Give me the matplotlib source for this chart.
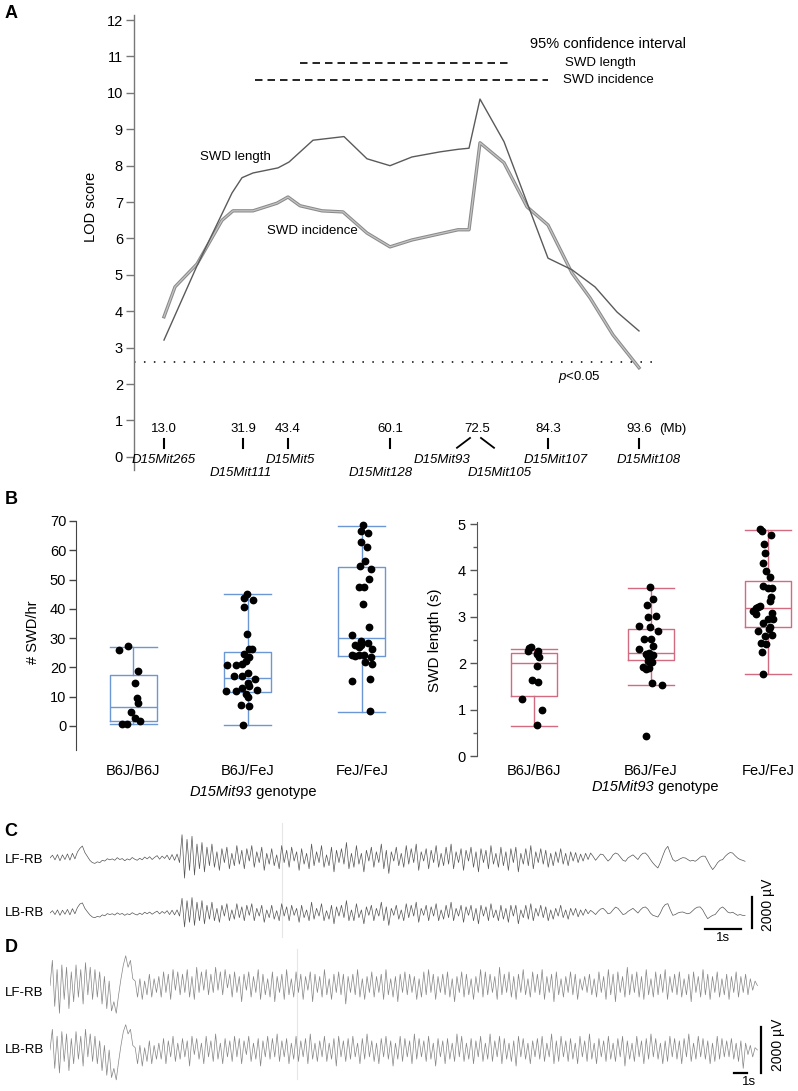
import numpy as np
import matplotlib
matplotlib.use("Agg")
import matplotlib.pyplot as plt
from matplotlib.ticker import MultipleLocator

plt.rcParams['font.family'] = ['Liberation Sans', 'DejaVu Sans']
plt.rcParams['mathtext.fontset'] = 'custom'
plt.rcParams['mathtext.rm'] = 'Liberation Sans'
plt.rcParams['mathtext.it'] = 'Liberation Sans:italic'

# ---------------- panel A data ----------------
marker_mb = ["13.0", "31.9", "43.4", "60.1", "72.5", "84.3", "93.6"]
marker_pos = [6.0, 21.8, 30.8, 51.2, 68.6, 82.8, 101.0]
marker_names = ["D15Mit265", "D15Mit111", "D15Mit5", "D15Mit128",
                "D15Mit93", "D15Mit105", "D15Mit107", "D15Mit108"]
name_pos = [6.0, 21.4, 31.2, 49.4, 61.6, 73.2, 84.4, 103.0]
name_row = [0, 1, 0, 1, 0, 1, 0, 0]

len_pos = [6.0, 12.6, 19.6, 21.6, 23.8, 28.8, 31.0, 35.8, 42.0, 46.6, 51.2,
           55.6, 61.2, 64.8, 67.0, 69.2, 74.0, 82.8, 87.6, 92.2, 96.6, 101.0]
len_lod = [3.21, 5.25, 7.25, 7.67, 7.80, 7.94, 8.10, 8.70, 8.80, 8.19, 8.00,
           8.24, 8.38, 8.45, 8.48, 9.83, 8.66, 5.46, 5.14, 4.67, 3.98, 3.46]

inc_pos = [6.0, 8.2, 12.6, 17.6, 19.8, 23.8, 28.6, 30.8, 33.2, 37.6, 41.8, 46.6,
           51.2, 55.6, 64.8, 67.0, 69.2, 74.0, 78.6, 82.8, 87.6, 91.2, 95.8, 101.0]
inc_lod = [3.85, 4.67, 5.30, 6.50, 6.76, 6.76, 6.97, 7.14, 6.90, 6.76, 6.73, 6.15,
           5.77, 5.96, 6.24, 6.24, 8.63, 8.08, 6.87, 6.37, 5.05, 4.37, 3.35, 2.45]

ci_length = [33.2, 75.6]
ci_incidence = [24.2, 82.8]
threshold = 2.6

# ---------------- panel B data ----------------
groups = ["B6J/B6J", "B6J/FeJ", "FeJ/FeJ"]

rate_med = [6.5, 16.5, 30.2]
rate_q1 = [1.7, 11.7, 24.0]
rate_q3 = [17.5, 25.3, 54.3]
rate_lo = [0.6, 0.3, 4.9]
rate_hi = [27.0, 45.0, 68.2]

rate_bb = [27.3, 26.0, 18.8, 14.6, 9.6, 8.0, 4.9, 2.8, 1.7, 0.8, 0.8]
rate_bb_dx = [-0.044, -0.125, 0.038, 0.017, 0.035, 0.044, -0.015, 0.02, 0.064, -0.10, -0.055]
rate_bf = [45.0, 43.7, 42.9, 40.6, 31.5, 26.2, 26.2, 24.7, 23.6, 22.1, 21.3, 20.9, 20.8, 18.1,
           17.0, 17.0, 16.2, 14.7, 13.5, 13.1, 11.9, 11.9, 12.2, 11.0, 9.9, 7.1, 6.7, 0.5]
rate_bf_dx = [-0.006, -0.035, 0.044, -0.035, -0.006, 0.015, 0.035, -0.029, 0.015, -0.015, -0.044,
              -0.175, -0.099, 0.0, -0.117, -0.052, 0.064, 0.0, 0.015, -0.044, -0.19, -0.10, 0.087,
              -0.015, 0.0, -0.058, 0.015, -0.041]
rate_ff = [68.5, 66.5, 66.0, 62.8, 61.1, 56.2, 54.7, 53.5, 50.1, 47.5, 47.5, 41.5, 33.8, 31.1, 29.0,
           28.5, 27.8, 27.8, 27.0, 26.4, 24.1, 24.1, 24.1, 23.6, 23.8, 21.7, 21.3, 15.3, 15.9, 5.0]
rate_ff_dx = [0.009, -0.009, 0.052, -0.006, 0.044, 0.029, -0.02, 0.082, 0.064, -0.026, 0.02, 0.009,
              0.064, -0.087, -0.009, 0.052, -0.064, -0.009, -0.029, 0.087, -0.087, -0.029, 0.02,
              0.079, -0.058, 0.029, 0.087, -0.087, 0.067, 0.073]

len_med = [2.01, 2.22, 3.18]
len_q1 = [1.29, 2.06, 2.78]
len_q3 = [2.22, 2.73, 3.78]
len_lo = [0.65, 1.53, 1.77]
len_hi = [2.30, 3.63, 4.88]

len_bb = [2.32, 2.34, 2.27, 2.27, 2.20, 2.14, 1.93, 1.64, 1.60, 1.22, 0.99, 0.66]
len_bb_dx = [-0.04, -0.026, -0.054, 0.037, 0.023, 0.046, 0.023, -0.014, 0.037, -0.10, 0.071, 0.026]
len_bf = [3.64, 3.38, 3.26, 2.99, 3.01, 2.81, 2.78, 2.70, 2.52, 2.52, 2.36, 2.31, 2.23, 2.20, 2.18,
          2.14, 2.11, 2.04, 2.02, 1.91, 1.89, 1.87, 1.58, 1.53, 0.43]
len_bf_dx = [-0.009, 0.014, -0.037, -0.028, 0.043, -0.10, -0.006, 0.06, -0.057, 0.0, 0.02, -0.105,
             -0.014, -0.043, 0.02, -0.028, -0.006, -0.028, 0.009, -0.066, -0.02, -0.043, 0.009,
             0.094, -0.043]
len_ff = [4.90, 4.84, 4.76, 4.56, 4.37, 4.16, 3.99, 3.85, 3.67, 3.62, 3.62, 3.42, 3.35, 3.24, 3.19,
          3.22, 3.12, 3.06, 3.08, 2.96, 2.95, 2.86, 2.79, 2.73, 2.70, 2.61, 2.58, 2.43, 2.42, 2.24, 1.77]
len_ff_dx = [-0.071, -0.048, 0.028, -0.037, -0.028, -0.043, -0.014, 0.02, -0.043, 0.037, 0.0, 0.028,
             0.014, -0.066, -0.105, -0.085, -0.128, -0.10, 0.037, 0.0, 0.043, -0.043, 0.02, 0.009,
             -0.085, 0.037, -0.028, -0.057, -0.02, -0.048, -0.043]

# ---------------- panel C / D traces (uV) ----------------
dt_c = 0.0692
dt_d = 0.182

c_lf = [0, 180, -120, 220, -180, 200, -100, 260, -140, 300,
        -60, 380, 620, 770, 350, 100, -150, -300, -350, -250,
        -300, -150, -200, -50, -120, -60, -150, 20, -100, -40,
        -180, -60, -130, 30, -80, -150, -20, -120, 60, -60,
        80, -100, 40, 150, -80, 120, -30, 180, -120, 220,
        -150, 250,
        -300, 1500, -1300, 1200, -800, 1400, -1100, 900, -700, 1000,
        -900, 700, -500, 900, -600, 400, -800, 600, -300, 700,
        -700, 300, -500, 800, -400, 500, -700, 600, -200, 800,
        -600, 400, -300, 700, -800, 300, -400, 600, -500, 200,
        -700, 800, -300, 500, -600, 700, -200, 400, -800, 600,
        -400, 300, -700, 900, -500, 400, -300, 800, -600, 200,
        -500, 700, -900, 500, -300, 600, -400, 1000, -700, 300,
        -600, 800, -400, 300, -900, 500, -200, 700, -600, 400,
        -300, 900, -700, 500, -1000, 400, -200, 700, -500, 300,
        -600, 800, -400, 600, -300, 900, -800, 400, -200, 600,
        -700, 500, -300, 800, -600, 300, -500, 700, -400, 900,
        -700, 400, -300, 600, -800, 500, -200, 700, -600, 400,
        -900, 600, -300, 500, -700, 800, -400, 300, -600, 700,
        -500, 400, -800, 600, -300, 700, -900, 300, -400, 600,
        -500, 800, -700, 400, -300, 600, -400, 500, -600, 300,
        -500, 400, -300, 600, -400, 300, -500, 400, -200, 350,
        -300, 250, -200, 300, -100,
        320, 100, -150, 50, 250, 215, 0, -200, -50, 200,
        320, 250, 50, -150, -215, 0, 108, 200, 50, -100,
        150, 300, 320, 150, -100, -320, -500, -645, -300, 150,
        550, 750, 300, -100, -215, -150, -50, 20, 0, -100,
        -200, -150, -215, -100, 50, 120, 108, -200, -500, -750,
        -550, -300, -150, -108, 100, 250, 350, 320, 150, 0,
        -100, -150, -215]

c_lb = [0, 150, -100, 200, -150, 180, -80, 230, -120, 280,
        -50, 350, 580, 650, 300, 80, -120, -260, -300, -220,
        -260, -120, -180, -40, -100, -50, -130, 10, -90, -30,
        -150, -50, -110, 20, -70, -130, -10, -100, 50, -50,
        60, -80, 30, 120, -60, 100, -20, 150, -100, 180,
        -120, 200,
        -200, 950, -900, 800, -600, 1000, -800, 700, -500, 800,
        -700, 500, -400, 700, -500, 300, -600, 500, -200, 600,
        -500, 200, -400, 600, -300, 400, -500, 500, -150, 600,
        -500, 300, -200, 500, -600, 200, -300, 500, -400, 150,
        -500, 600, -200, 400, -500, 500, -150, 300, -600, 500,
        -300, 200, -500, 700, -400, 300, -200, 600, -500, 150,
        -400, 500, -700, 400, -200, 500, -300, 800, -500, 200,
        -500, 600, -300, 200, -700, 400, -150, 500, -500, 300,
        -200, 700, -500, 400, -800, 300, -150, 500, -400, 200,
        -500, 600, -300, 500, -200, 700, -600, 300, -150, 500,
        -500, 400, -200, 600, -500, 200, -400, 500, -300, 700,
        -500, 300, -200, 500, -600, 400, -150, 500, -500, 300,
        -700, 500, -200, 400, -500, 600, -300, 200, -500, 500,
        -400, 300, -600, 500, -200, 500, -700, 200, -300, 500,
        -400, 600, -500, 300, -200, 500, -300, 400, -500, 200,
        -400, 300, -200, 500, -300, 200, -400, 300, -150, 300,
        -250, 200, -150, 250, -50,
        170, 50, -100, 100, 250, 300, 150, -50, 0, 200,
        380, 300, 100, -100, -50, 100, 200, 300, 150, 0,
        200, 350, 390, 250, 0, -150, -200, -260, 0, 350,
        550, 600, 200, -150, -100, 0, 50, 65, 0, -50,
        0, 150, 300, 380, 390, 200, -100, -365, -250, -150,
        -100, 100, 300, 390, 250, 65, 0, 50, -50, -150,
        -100, -150, -150]

d_lf = [0, 1100, -900, 700, -1200, 900, -600, 800, -1000, 600,
        -700, 900, -500, 700, -800, 1000, -400, 800, -600, 700,
        -500, 600, -800, 400, -1000, 200,
        -1100, -700, -1200, -400, 300, 900,
        1300, 800, 1100, 300, 200, -500,
        300, -600, 200, -400, 500, -500, 300, -300,
        400, -500, 600, -300, 500, -600, 700, -200, 600, -400,
        500, -300, 700, -500, 400, -600, 800, -300, 600, -200,
        700, -400, 500, -300, 800, -200, 600, -400, 700, -100,
        500, -500, 600, -300, 400, -700, 500, -200, 600, -500,
        400, -300, 700, -600, 500, -400, 300, -500, 600, -700,
        400, -300, 500, -600, 700, -400, 300, -500, 600, -300,
        500, -600, 400, -200, 600, -700, 500, -300, 400, -500,
        700, -400, 300, -600, 500, -300, 600, -400, 500, -800,
        400, -300, 500, -400, 700, -500, 300, -600, 400, -300,
        600, -500, 400, -300, 500, -600, 700, -400, 300, -500,
        400, -700, 500, -300, 600, -400, 500, -300, 400, -600,
        300, -500, 600, -400, 700, -300, 500, -600, 400, -300,
        500, -400, 600, -500, 300, -700, 400, -300, 600, -500,
        500, -400, 300, -600, 400, -300, 700, -500, 600, -400,
        500, -300, 400, -600, 800, -400, 500, -300, 600, -500,
        400, -600, 500, -300, 700, -400, 300, -500, 600, -300,
        500, -400, 700, -600, 400, -300, 500, -700, 600, -400,
        300, -500, 400, -300, 600, -400, 500, -600, 300, -200,
        400, -300, 500, -400, 300, -500, 600, -300, 400, -600,
        700, -400, 500, -700, 600, -300, 400, -500, 800, -400,
        500, -300, 600, -500, 400, -600, 700, -400, 300, -500,
        600, -400, 500, -300, 700, -600, 400, -300, 500, -400,
        600, -500, 300, -400, 500, -700, 600, -300, 400, -500,
        700, -400, 500, -600, 400, -300, 600, -500, 300, -400,
        500, -600, 400, -300, 600, -500, 400, -300, 500, -400,
        300, -200, 200, 0]

d_lb = [0, 900, -800, 600, -1000, 800, -500, 700, -900, 500,
        -600, 800, -400, 600, -700, 900, -300, 700, -500, 600,
        -600, 400, -900, 200, -1100, 0,
        -1200, -800, -1300, -500, 200, 800,
        1100, 700, 900, 200, 100, -600,
        200, -700, 100, -500, 400, -600, 200, -400,
        300, -400, 500, -600, 400, -300, 600, -500, 300, -400,
        500, -300, 400, -700, 600, -200, 500, -400, 300, -600,
        600, -300, 400, -500, 700, -400, 300, -600, 500, -300,
        400, -500, 600, -300, 500, -600, 400, -200, 600, -500,
        300, -400, 500, -700, 400, -300, 600, -400, 500, -300,
        700, -500, 400, -300, 500, -600, 300, -400, 600, -500,
        400, -300, 500, -600, 700, -400, 300, -500, 400, -300,
        600, -500, 300, -400, 500, -700, 600, -300, 400, -500,
        500, -400, 600, -300, 300, -600, 500, -400, 700, -300,
        400, -500, 300, -600, 500, -300, 600, -400, 400, -700,
        300, -400, 600, -500, 500, -300, 400, -600, 700, -400,
        500, -300, 400, -500, 600, -400, 300, -700, 500, -300,
        400, -600, 500, -400, 300, -500, 700, -300, 600, -500,
        300, -400, 500, -600, 400, -300, 600, -500, 300, -400,
        700, -500, 400, -300, 600, -600, 500, -400, 300, -500,
        400, -700, 600, -300, 500, -400, 300, -600, 400, -300,
        500, -400, 600, -500, 300, -300, 700, -600, 400, -500,
        600, -300, 400, -500, 500, -400, 300, -600, 600, -300,
        400, -500, 700, -400, 300, -600, 500, -300, 400, -500,
        600, -400, 300, -500, 500, -300, 600, -700, 400, -400,
        300, -500, 600, -300, 400, -600, 500, -400, 700, -300,
        500, -400, 300, -600, 400, -500, 600, -300, 500, -400,
        400, -600, 500, -300, 700, -500, 300, -400, 600, -300,
        500, -400, 400, -600, 300, -500, 600, -400, 500, -300,
        400, -300, 500, -400, 300, -500, 400, -800, 300, -200,
        200, -300, 100, 0]

W, H = 798, 1091


def box(l, t, r, b):
    # pixel box -> figure fraction rect
    return [l / W, 1 - b / H, (r - l) / W, (b - t) / H]


def fpos(x, y):
    return x / W, 1 - y / H


def genotype_label(x, y):
    # italic marker name followed by plain word, centred on x
    fx, fy = fpos(x, y)
    fig.text(fx, fy, "D15Mit93", fontsize=10.5, style="italic", ha="right", va="center")
    fig.text(fx, fy, " genotype", fontsize=10.5, ha="left", va="center")


fig = plt.figure(figsize=(W / 100, H / 100), dpi=100)

# ================= A =================
ax = fig.add_axes(box(134, 15, 700, 470))
ax.set_xlim(0, 113.2)
ax.set_ylim(-0.36, 12.14)
for s in ["top", "right", "bottom"]:
    ax.spines[s].set_visible(False)
ax.spines["left"].set_color("#777777")
ax.spines["left"].set_linewidth(1.0)
ax.set_xticks([])
ax.set_yticks(range(0, 13))
ax.tick_params(axis="y", length=6, width=1, color="#777777", labelsize=10.5, pad=2)

ax.plot(inc_pos, inc_lod, color="#8a8a8a", lw=2.4, zorder=2)
ax.plot(inc_pos, inc_lod, color="#c4c4c4", lw=0.9, zorder=2.1)
ax.plot(len_pos, len_lod, color="#5a5a5a", lw=1.0, zorder=3)

ax.plot([0, 103.8], [threshold, threshold], color="black", lw=1.1,
        linestyle=(0, (1, 5.5)))
ax.text(84.8, 2.2, r"$p$<0.05", fontsize=9.5, va="center", ha="left")

ax.plot(ci_length, [10.83, 10.83], color="black", lw=1.2, linestyle=(0, (4.5, 3)))
ax.plot(ci_incidence, [10.35, 10.35], color="black", lw=1.2, linestyle=(0, (4.5, 3)))
ax.text(79.2, 11.35, "95% confidence interval", fontsize=10.5, va="center")
ax.text(86.2, 10.83, "SWD length", fontsize=9.5, va="center")
ax.text(85.8, 10.35, "SWD incidence", fontsize=9.5, va="center")

ax.text(13.2, 8.24, "SWD length", fontsize=9.5, va="center")
ax.text(26.6, 6.2, "SWD incidence", fontsize=9.5, va="center")

for p, mb in zip(marker_pos, marker_mb):
    ax.text(p, 0.77, mb, fontsize=9.5, ha="center", va="center")
    if mb == "72.5":
        ax.plot([p - 4.0, p - 1.4], [0.25, 0.52], color="black", lw=1.3)
        ax.plot([p + 0.8, p + 3.4], [0.52, 0.25], color="black", lw=1.3)
    else:
        ax.plot([p, p], [0.25, 0.48], color="black", lw=1.5)
ax.text(107.7, 0.77, "(Mb)", fontsize=9.5, ha="center", va="center")
for nm, p, row in zip(marker_names, name_pos, name_row):
    ax.text(p, -0.08 - 0.37 * row, nm, fontsize=9.5, style="italic",
            ha="center", va="center", clip_on=False)
x, y = fpos(91, 207)
fig.text(x, y, "LOD score", rotation=90, fontsize=10.5, ha="center", va="center")


# ================= B =================
def draw_box(axb, med, q1, q3, lo, hi, pts, dxs, color, width):
    stats = []
    for i in range(3):
        stats.append(dict(med=med[i], q1=q1[i], q3=q3[i], whislo=lo[i],
                          whishi=hi[i], fliers=[]))
    props = dict(color=color, linewidth=1.0)
    axb.bxp(stats, positions=[0, 1, 2], widths=width, capwidths=width,
            showfliers=False, boxprops=props, whiskerprops=props,
            capprops=props, medianprops=props, manage_ticks=False)
    for i in range(3):
        axb.plot(np.array(dxs[i]) + i, pts[i], "o", color="black", ms=4.6,
                 zorder=4, clip_on=False)


axl = fig.add_axes(box(76, 521, 395, 750))
axl.set_xlim(-0.5, 2.29)
axl.set_ylim(-8.2, 70)
draw_box(axl, rate_med, rate_q1, rate_q3, rate_lo, rate_hi,
         [rate_bb, rate_bf, rate_ff], [rate_bb_dx, rate_bf_dx, rate_ff_dx],
         "#6b98d4", 0.41)
for s in ["top", "right", "bottom"]:
    axl.spines[s].set_visible(False)
axl.spines["left"].set_color("#444444")
axl.set_yticks(range(0, 80, 10))
axl.tick_params(axis="y", length=5, width=1, color="#444444", labelsize=10.5, pad=2)
axl.set_xticks([0, 1, 2])
axl.set_xticklabels(groups)
axl.tick_params(axis="x", length=0, labelsize=10.5, pad=10)
x, y = fpos(33, 632)
fig.text(x, y, "# SWD/hr", rotation=90, fontsize=10.5, ha="center", va="center")
genotype_label(252, 792)

axr = fig.add_axes(box(477, 524, 795, 756))
axr.set_xlim(-0.487, 2.23)
axr.set_ylim(0, 5.0)
draw_box(axr, len_med, len_q1, len_q3, len_lo, len_hi,
         [len_bb, len_bf, len_ff], [len_bb_dx, len_bf_dx, len_ff_dx],
         "#d26a80", 0.40)
for s in ["top", "right", "bottom"]:
    axr.spines[s].set_visible(False)
axr.spines["left"].set_color("#555555")
axr.spines["left"].set_bounds(0, 5.05)
axr.set_yticks(range(0, 6))
axr.yaxis.set_minor_locator(MultipleLocator(0.5))
axr.tick_params(axis="y", which="major", length=5, width=1, color="#555555",
                labelsize=10.5, pad=3)
axr.tick_params(axis="y", which="minor", length=3, width=1, color="#555555")
axr.set_xticks([0, 1, 2])
axr.set_xticklabels(groups)
axr.tick_params(axis="x", length=0, labelsize=10.5, pad=6)
x, y = fpos(435, 640)
fig.text(x, y, "SWD length (s)", rotation=90, fontsize=11, ha="center", va="center")
genotype_label(654, 787)

# ================= C =================
axc = fig.add_axes(box(50, 815, 790, 945))
axc.set_xlim(0, 740 / 36)
axc.set_ylim(-2064, 6321)
axc.axis("off")
tc = np.arange(len(c_lf)) * dt_c
axc.plot(tc, np.array(c_lf) + 3550, color="#555555", lw=0.5)
tc2 = np.arange(len(c_lb)) * dt_c
axc.plot(tc2, c_lb, color="#555555", lw=0.5)
axc.plot([6.44, 6.44], [-1540, 5800], color="#e6e6e6", lw=0.8, zorder=0)
axc.plot([19.5, 19.5], [-968, 1032], color="black", lw=1.6)
axc.plot([18.19, 19.19], [-1032, -1032], color="black", lw=1.6)
axc.text(18.69, -1612, "1s", fontsize=9.5, ha="center", va="center")
axc.text(19.94, 516, "2000 µV", fontsize=10, rotation=90, ha="center", va="center")

# ================= D =================
axd = fig.add_axes(box(50, 935, 790, 1091))
axd.set_xlim(0, 740 / 13)
axd.set_ylim(-1784, 5003)
axd.axis("off")
td = np.arange(len(d_lf)) * dt_d
axd.plot(td, np.array(d_lf) + 2800, color="#858585", lw=0.5)
td2 = np.arange(len(d_lb)) * dt_d
axd.plot(td2, d_lb, color="#858585", lw=0.5)
axd.plot([19.0, 19.0], [-1250, 4400], color="#e6e6e6", lw=0.8, zorder=0)
axd.plot([54.7, 54.7], [-1000, 1000], color="black", lw=1.6)
axd.plot([52.6, 53.6], [-1000, -1000], color="black", lw=1.6)
axd.text(53.8, -1392, "1s", fontsize=9.5, ha="center", va="center")
axd.text(56.0, 217, "2000 µV", fontsize=10, rotation=90, ha="center", va="center")

# labels
for lab, (px, py) in zip("ABCD", [(11, 13), (11, 500), (11, 831), (11, 947)]):
    x, y = fpos(px, py)
    fig.text(x, y, lab, fontsize=13, fontweight="bold", ha="center", va="center")
for lab, py in [("LF-RB", 860), ("LB-RB", 913), ("LF-RB", 993), ("LB-RB", 1050)]:
    x, y = fpos(5, py)
    fig.text(x, y, lab, fontsize=9.5, ha="left", va="center")

fig.savefig("out.png", dpi=100)
